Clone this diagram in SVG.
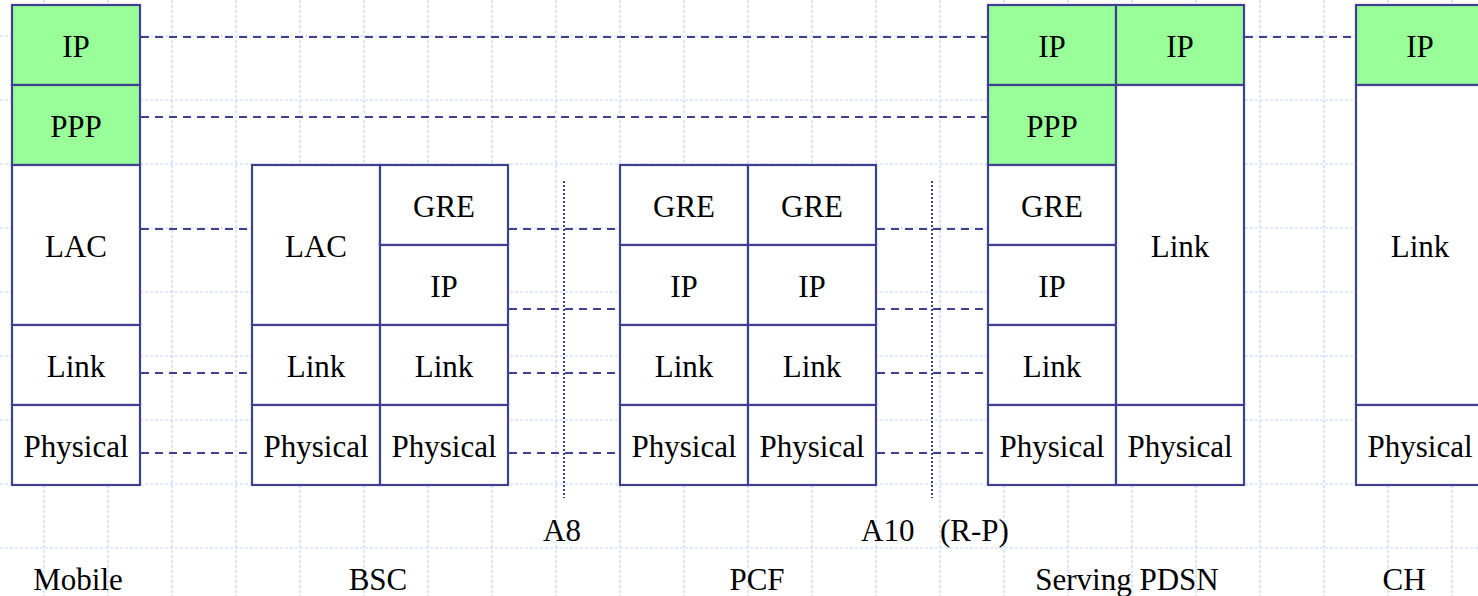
<svg xmlns="http://www.w3.org/2000/svg" width="1478" height="596" viewBox="0 0 1478 596">
<style>
.grid line{stroke:#c6d4fb;stroke-width:1.2;stroke-dasharray:3 2}
.cell{fill:#ffffff;stroke:#404090;stroke-width:2.2}
.cell.g{fill:#99ff99}
.t{font-family:"Liberation Serif","Times New Roman",serif;font-size:31px;fill:#000;text-anchor:middle}
.conn line{stroke:#404090;stroke-width:2.2;stroke-dasharray:8 6}
.ref line{stroke:#404090;stroke-width:2;stroke-dasharray:2 2}
</style>
<rect width="1478" height="596" fill="#ffffff"/>
<g class="grid">
<line x1="44" y1="0" x2="44" y2="596"/><line x1="108" y1="0" x2="108" y2="596"/><line x1="172" y1="0" x2="172" y2="596"/><line x1="236" y1="0" x2="236" y2="596"/><line x1="300" y1="0" x2="300" y2="596"/><line x1="364" y1="0" x2="364" y2="596"/><line x1="428" y1="0" x2="428" y2="596"/><line x1="492" y1="0" x2="492" y2="596"/><line x1="556" y1="0" x2="556" y2="596"/><line x1="620" y1="0" x2="620" y2="596"/><line x1="684" y1="0" x2="684" y2="596"/><line x1="748" y1="0" x2="748" y2="596"/><line x1="812" y1="0" x2="812" y2="596"/><line x1="876" y1="0" x2="876" y2="596"/><line x1="940" y1="0" x2="940" y2="596"/><line x1="1004" y1="0" x2="1004" y2="596"/><line x1="1068" y1="0" x2="1068" y2="596"/><line x1="1132" y1="0" x2="1132" y2="596"/><line x1="1196" y1="0" x2="1196" y2="596"/><line x1="1260" y1="0" x2="1260" y2="596"/><line x1="1324" y1="0" x2="1324" y2="596"/><line x1="1388" y1="0" x2="1388" y2="596"/><line x1="1452" y1="0" x2="1452" y2="596"/>
<line x1="0" y1="36" x2="1478" y2="36"/><line x1="0" y1="100" x2="1478" y2="100"/><line x1="0" y1="164" x2="1478" y2="164"/><line x1="0" y1="228" x2="1478" y2="228"/><line x1="0" y1="292" x2="1478" y2="292"/><line x1="0" y1="356" x2="1478" y2="356"/><line x1="0" y1="420" x2="1478" y2="420"/><line x1="0" y1="484" x2="1478" y2="484"/><line x1="0" y1="548" x2="1478" y2="548"/>
</g>
<g id="connectors">
<g class="conn">
<line x1="141" y1="37" x2="987" y2="37"/>
<line x1="1245" y1="37" x2="1355" y2="37"/>
<line x1="141" y1="117" x2="987" y2="117"/>
<line x1="141" y1="229" x2="251" y2="229"/>
<line x1="509" y1="229" x2="619" y2="229"/>
<line x1="877" y1="229" x2="987" y2="229"/>
<line x1="509" y1="309" x2="619" y2="309"/>
<line x1="877" y1="309" x2="987" y2="309"/>
<line x1="141" y1="373" x2="251" y2="373"/>
<line x1="509" y1="373" x2="619" y2="373"/>
<line x1="877" y1="373" x2="987" y2="373"/>
<line x1="141" y1="453" x2="251" y2="453"/>
<line x1="509" y1="453" x2="619" y2="453"/>
<line x1="877" y1="453" x2="987" y2="453"/>
</g>
<g class="ref">
<line x1="564" y1="181" x2="564" y2="498"/>
<line x1="932" y1="181" x2="932" y2="498"/>
</g>
</g>
<g id="mobile">
<rect class="cell g" x="12" y="5" width="128" height="80"/>
<rect class="cell g" x="12" y="85" width="128" height="80"/>
<rect class="cell" x="12" y="165" width="128" height="160"/>
<rect class="cell" x="12" y="325" width="128" height="80"/>
<rect class="cell" x="12" y="405" width="128" height="80"/>
<text class="t" x="76" y="57">IP</text>
<text class="t" x="76" y="137">PPP</text>
<text class="t" x="76" y="257">LAC</text>
<text class="t" x="76" y="377">Link</text>
<text class="t" x="76" y="457">Physical</text>
</g>
<g id="bsc">
<rect class="cell" x="252" y="165" width="128" height="160"/>
<rect class="cell" x="252" y="325" width="128" height="80"/>
<rect class="cell" x="252" y="405" width="128" height="80"/>
<rect class="cell" x="380" y="165" width="128" height="80"/>
<rect class="cell" x="380" y="245" width="128" height="80"/>
<rect class="cell" x="380" y="325" width="128" height="80"/>
<rect class="cell" x="380" y="405" width="128" height="80"/>
<text class="t" x="316" y="257">LAC</text>
<text class="t" x="316" y="377">Link</text>
<text class="t" x="316" y="457">Physical</text>
<text class="t" x="444" y="217">GRE</text>
<text class="t" x="444" y="297">IP</text>
<text class="t" x="444" y="377">Link</text>
<text class="t" x="444" y="457">Physical</text>
</g>
<g id="pcf">
<rect class="cell" x="620" y="165" width="128" height="80"/>
<rect class="cell" x="620" y="245" width="128" height="80"/>
<rect class="cell" x="620" y="325" width="128" height="80"/>
<rect class="cell" x="620" y="405" width="128" height="80"/>
<rect class="cell" x="748" y="165" width="128" height="80"/>
<rect class="cell" x="748" y="245" width="128" height="80"/>
<rect class="cell" x="748" y="325" width="128" height="80"/>
<rect class="cell" x="748" y="405" width="128" height="80"/>
<text class="t" x="684" y="217">GRE</text>
<text class="t" x="684" y="297">IP</text>
<text class="t" x="684" y="377">Link</text>
<text class="t" x="684" y="457">Physical</text>
<text class="t" x="812" y="217">GRE</text>
<text class="t" x="812" y="297">IP</text>
<text class="t" x="812" y="377">Link</text>
<text class="t" x="812" y="457">Physical</text>
</g>
<g id="pdsn">
<rect class="cell g" x="988" y="5" width="128" height="80"/>
<rect class="cell g" x="988" y="85" width="128" height="80"/>
<rect class="cell" x="988" y="165" width="128" height="80"/>
<rect class="cell" x="988" y="245" width="128" height="80"/>
<rect class="cell" x="988" y="325" width="128" height="80"/>
<rect class="cell" x="988" y="405" width="128" height="80"/>
<rect class="cell g" x="1116" y="5" width="128" height="80"/>
<rect class="cell" x="1116" y="85" width="128" height="320"/>
<rect class="cell" x="1116" y="405" width="128" height="80"/>
<text class="t" x="1052" y="57">IP</text>
<text class="t" x="1052" y="137">PPP</text>
<text class="t" x="1052" y="217">GRE</text>
<text class="t" x="1052" y="297">IP</text>
<text class="t" x="1052" y="377">Link</text>
<text class="t" x="1052" y="457">Physical</text>
<text class="t" x="1180" y="57">IP</text>
<text class="t" x="1180" y="257">Link</text>
<text class="t" x="1180" y="457">Physical</text>
</g>
<g id="ch">
<rect class="cell g" x="1356" y="5" width="128" height="80"/>
<rect class="cell" x="1356" y="85" width="128" height="320"/>
<rect class="cell" x="1356" y="405" width="128" height="80"/>
<text class="t" x="1420" y="57">IP</text>
<text class="t" x="1420" y="257">Link</text>
<text class="t" x="1420" y="457">Physical</text>
</g>
<g id="labels">
<text class="t" x="562" y="541">A8</text>
<text class="t" x="861" y="541" style="text-anchor:start">A10<tspan x="940">(R-P)</tspan></text>
<text class="t" x="78" y="590">Mobile</text>
<text class="t" x="378" y="590">BSC</text>
<text class="t" x="757" y="590">PCF</text>
<text class="t" x="1127" y="590">Serving PDSN</text>
<text class="t" x="1404" y="590">CH</text>
</g>
</svg>
